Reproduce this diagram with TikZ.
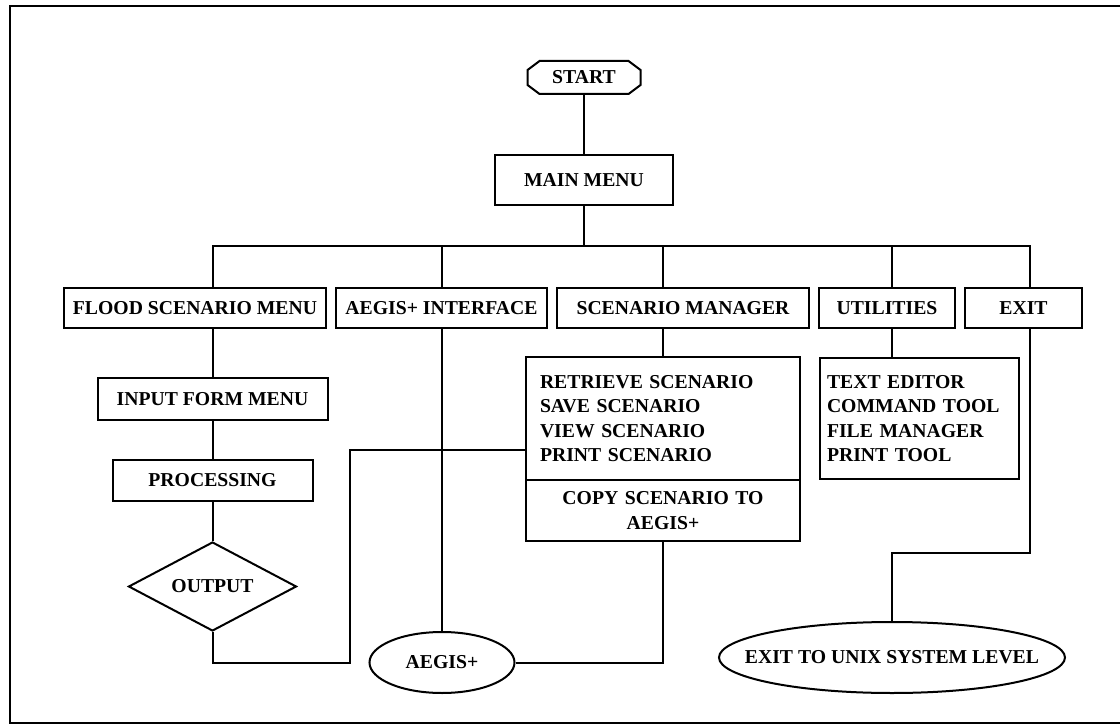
\documentclass[tikz,border=0pt]{standalone}
\usepackage{fontspec}
\setmainfont{Liberation Serif}
\usetikzlibrary{shapes.geometric,calc}
\begin{document}
\begin{tikzpicture}[x=1pt,y=-1pt,line width=2pt,
  every node/.style={font=\fontsize{19.7}{24.5}\selectfont\bfseries, inner sep=0pt},
  flbox/.style={draw, rectangle, minimum height=40pt},
  ovalbox/.style={draw, ellipse}]
\useasboundingbox (0,0) rectangle (1120,725);
% frame
\draw[line width=2.4pt] (1120,6) -- (10,6) -- (10,723) -- (1120,723);
% nodes
\node[minimum width=111pt, minimum height=31pt] (start) at (584,77.5) {START};
\draw ($(start.north west)+(12,0)$) -- ($(start.north east)+(-12,0)$) -- ($(start.north east)+(0,9)$) -- ($(start.south east)+(0,-9)$) -- ($(start.south east)+(-12,0)$) -- ($(start.south west)+(12,0)$) -- ($(start.south west)+(0,-9)$) -- ($(start.north west)+(0,9)$) -- cycle;
\node[flbox, minimum width=178pt, minimum height=50pt] (main) at (584,180) {MAIN MENU};
\node[flbox, minimum width=262pt] (flood) at (195,308) {FLOOD SCENARIO MENU};
\node[flbox, minimum width=211pt] (aegisif) at (441.5,308) {AEGIS+ INTERFACE};
\node[flbox, minimum width=252pt] (scen) at (683,308) {SCENARIO MANAGER};
\node[flbox, minimum width=136pt] (util) at (887,308) {UTILITIES};
\node[flbox, minimum width=117pt] (exitb) at (1023.5,308) {EXIT};
\node[flbox, minimum width=230pt, minimum height=42pt] (input) at (212.5,399) {INPUT FORM MENU};
\node[flbox, minimum width=200pt, minimum height=41pt] (proc) at (212.5,480.5) {PROCESSING};
\node[draw, diamond, aspect=2, minimum width=168pt, minimum height=89pt] (output) at (212.5,586.5) {OUTPUT};
\node[flbox, minimum width=274pt, minimum height=123pt, text width=246pt, inner xsep=14pt, align=left] (slist) at (663,418.5) {RETRIEVE SCENARIO\\SAVE SCENARIO\\VIEW SCENARIO\\PRINT SCENARIO};
\node[flbox, minimum width=274pt, minimum height=61pt, text width=274pt, align=center] (copy) at (663,510.5) {COPY SCENARIO TO\\AEGIS+};
\node[flbox, minimum width=199pt, minimum height=121pt, text width=185pt, inner xsep=7pt, align=left] (ulist) at (919.5,418.5) {TEXT EDITOR\\COMMAND TOOL\\FILE MANAGER\\PRINT TOOL};
\node[ovalbox, minimum width=145pt, minimum height=61pt] (aegis) at (442,662.5) {\makebox[0pt]{AEGIS+}};
\node[ovalbox, minimum width=346pt, minimum height=71pt] (unix) at (892,657.5) {\makebox[0pt]{EXIT TO UNIX SYSTEM LEVEL}};
% bus and connectors
\coordinate (busL) at (212.5,246);
\coordinate (busR) at (1030,246);
\coordinate (ux) at (892,246);
\draw (start.south) -- (main.north);
\draw (main.south) -- (main.south |- busL);
\draw (busL |- flood.north) -- (busL) -- (busR) -- (busR |- exitb.north);
\draw (aegisif.north) -- (aegisif.north |- busL);
\draw (slist.north |- scen.north) -- (slist.north |- busL);
\draw (ux |- util.north) -- (ux);
\draw (input.north) -- (input.north |- flood.south);
\draw (proc.north) -- (proc.north |- input.south);
\draw (output.north) -- (output.north |- proc.south);
\coordinate (wp1) at (350,663);
\coordinate (wp2) at (350,449.5);
\draw (output.south) |- (wp1) -- (wp2) -- (wp2 -| slist.west);
\draw (aegisif.south) -- (aegisif.south |- aegis.north);
\draw (copy.south) |- (aegis.east);
\draw (slist.north) -- (slist.north |- scen.south);
\draw (ux |- util.south) -- (ux |- ulist.north);
\coordinate (wp3) at (1030,553);
\draw (busR |- exitb.south) -- (wp3) -- (wp3 -| unix.north) -- (unix.north);
\end{tikzpicture}
\end{document}
